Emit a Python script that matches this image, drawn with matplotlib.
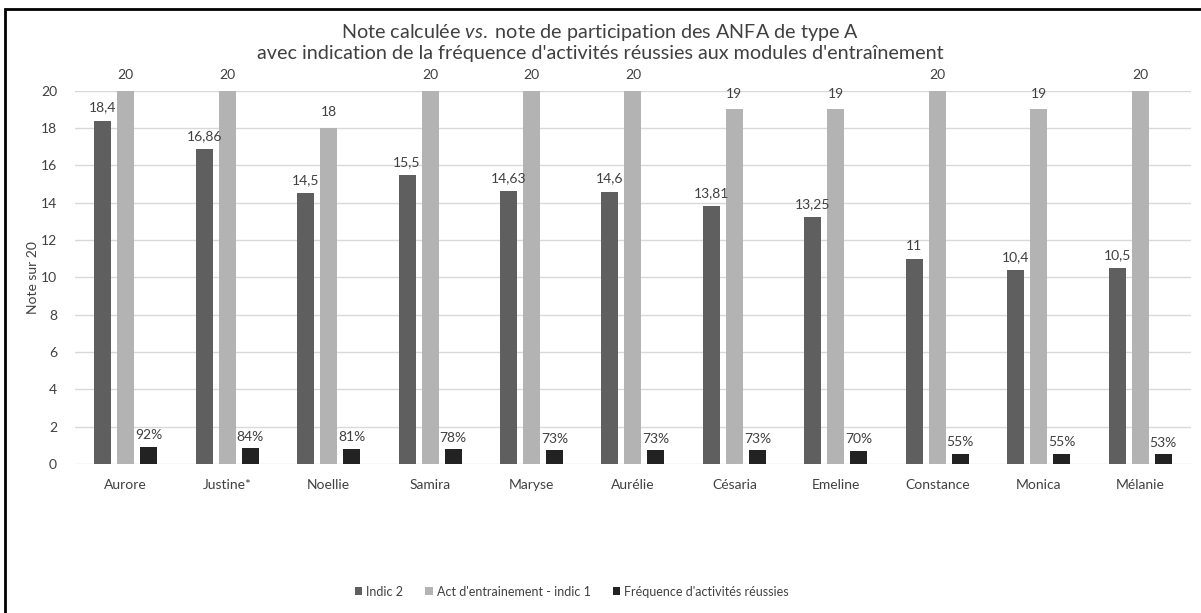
import matplotlib.pyplot as plt
import matplotlib.patches as patches
import numpy as np

plt.rcParams['font.family'] = ['Lato', 'DejaVu Sans']
plt.rcParams['mathtext.fontset'] = 'custom'
plt.rcParams['mathtext.rm'] = 'Lato'
plt.rcParams['mathtext.it'] = 'Lato:italic'

names = ['Aurore', 'Justine*', 'Noellie', 'Samira', 'Maryse', 'Aurélie',
         'Césaria', 'Emeline', 'Constance', 'Monica', 'Mélanie']
indic2 = [18.4, 16.86, 14.5, 15.5, 14.63, 14.6, 13.81, 13.25, 11, 10.4, 10.5]
act = [20, 20, 18, 20, 20, 20, 19, 19, 20, 19, 20]
freq = [0.92, 0.84, 0.81, 0.78, 0.73, 0.73, 0.73, 0.70, 0.55, 0.55, 0.53]

labels = ['Indic 2', "Act d'entrainement - indic 1", "Fréquence d'activités réussies"]
colors = ['#5f5f5f', '#b3b3b3', '#222222']
txt = '#404040'

fig = plt.figure(figsize=(12.01, 6.13), dpi=100)
ax = fig.add_axes([0.0625, 0.243, 0.929, 0.609])

x = np.arange(len(names))
w = 0.168
step = 0.227
b1 = ax.bar(x - step, indic2, w, color=colors[0], label=labels[0], zorder=3)
b2 = ax.bar(x, act, w, color=colors[1], label=labels[1], zorder=3)
b3 = ax.bar(x + step, freq, w, color=colors[2], label=labels[2], zorder=3)

# data labels
for r, v in zip(b1, indic2):
    ax.annotate(f'{v:g}'.replace('.', ','), (r.get_x() + r.get_width() / 2, v),
                xytext=(0, 5), textcoords='offset points', ha='center', va='bottom',
                fontsize=10, color=txt)
for r, v in zip(b2, act):
    ax.annotate(f'{v:g}', (r.get_x() + r.get_width() / 2, v),
                xytext=(0, 7), textcoords='offset points', ha='center', va='bottom',
                fontsize=10, color=txt, annotation_clip=False)
for r, v in zip(b3, freq):
    ax.annotate(f'{round(v * 100)}%', (r.get_x() + r.get_width() / 2, v),
                xytext=(0, 4), textcoords='offset points', ha='center', va='bottom',
                fontsize=10, color=txt)

ax.set_xlim(-0.5, len(names) - 0.5)
ax.set_ylim(0, 20)
ax.set_yticks(np.arange(0, 21, 2))
ax.set_xticks(x)
ax.set_xticklabels(names)
ax.tick_params(axis='both', length=0, labelsize=10, colors=txt)
ax.tick_params(axis='x', pad=11)
ax.tick_params(axis='y', pad=13)
ax.grid(axis='y', color='#d9d9d9', linewidth=1, zorder=0)
for s in ax.spines.values():
    s.set_visible(False)
ax.set_ylabel('Note sur 20', fontsize=10, color=txt)
ax.yaxis.set_label_coords(-0.032, 0.5)

fig.text(0.5, 0.938, r"Note calculée $\mathit{vs.}$ note de participation des ANFA de type A",
         ha='center', va='baseline', fontsize=14.2, color=txt)
fig.text(0.5, 0.903, "avec indication de la fréquence d'activités réussies aux modules d'entraînement",
         ha='center', va='baseline', fontsize=14.2, color=txt)

leg = fig.legend(loc='center', bbox_to_anchor=(0.476, 0.035), ncol=3, frameon=False,
                 fontsize=9, handlelength=0.6, handleheight=0.6, handletextpad=0.3,
                 columnspacing=1.8)
for t in leg.get_texts():
    t.set_color(txt)

# outer frame (only top and left edges visible)
fig.patches.append(patches.Rectangle((0.0045, -0.1), 1.2, 1.086, transform=fig.transFigure,
                                     fill=False, edgecolor='black', linewidth=2))

fig.savefig('out.png', dpi=100)
